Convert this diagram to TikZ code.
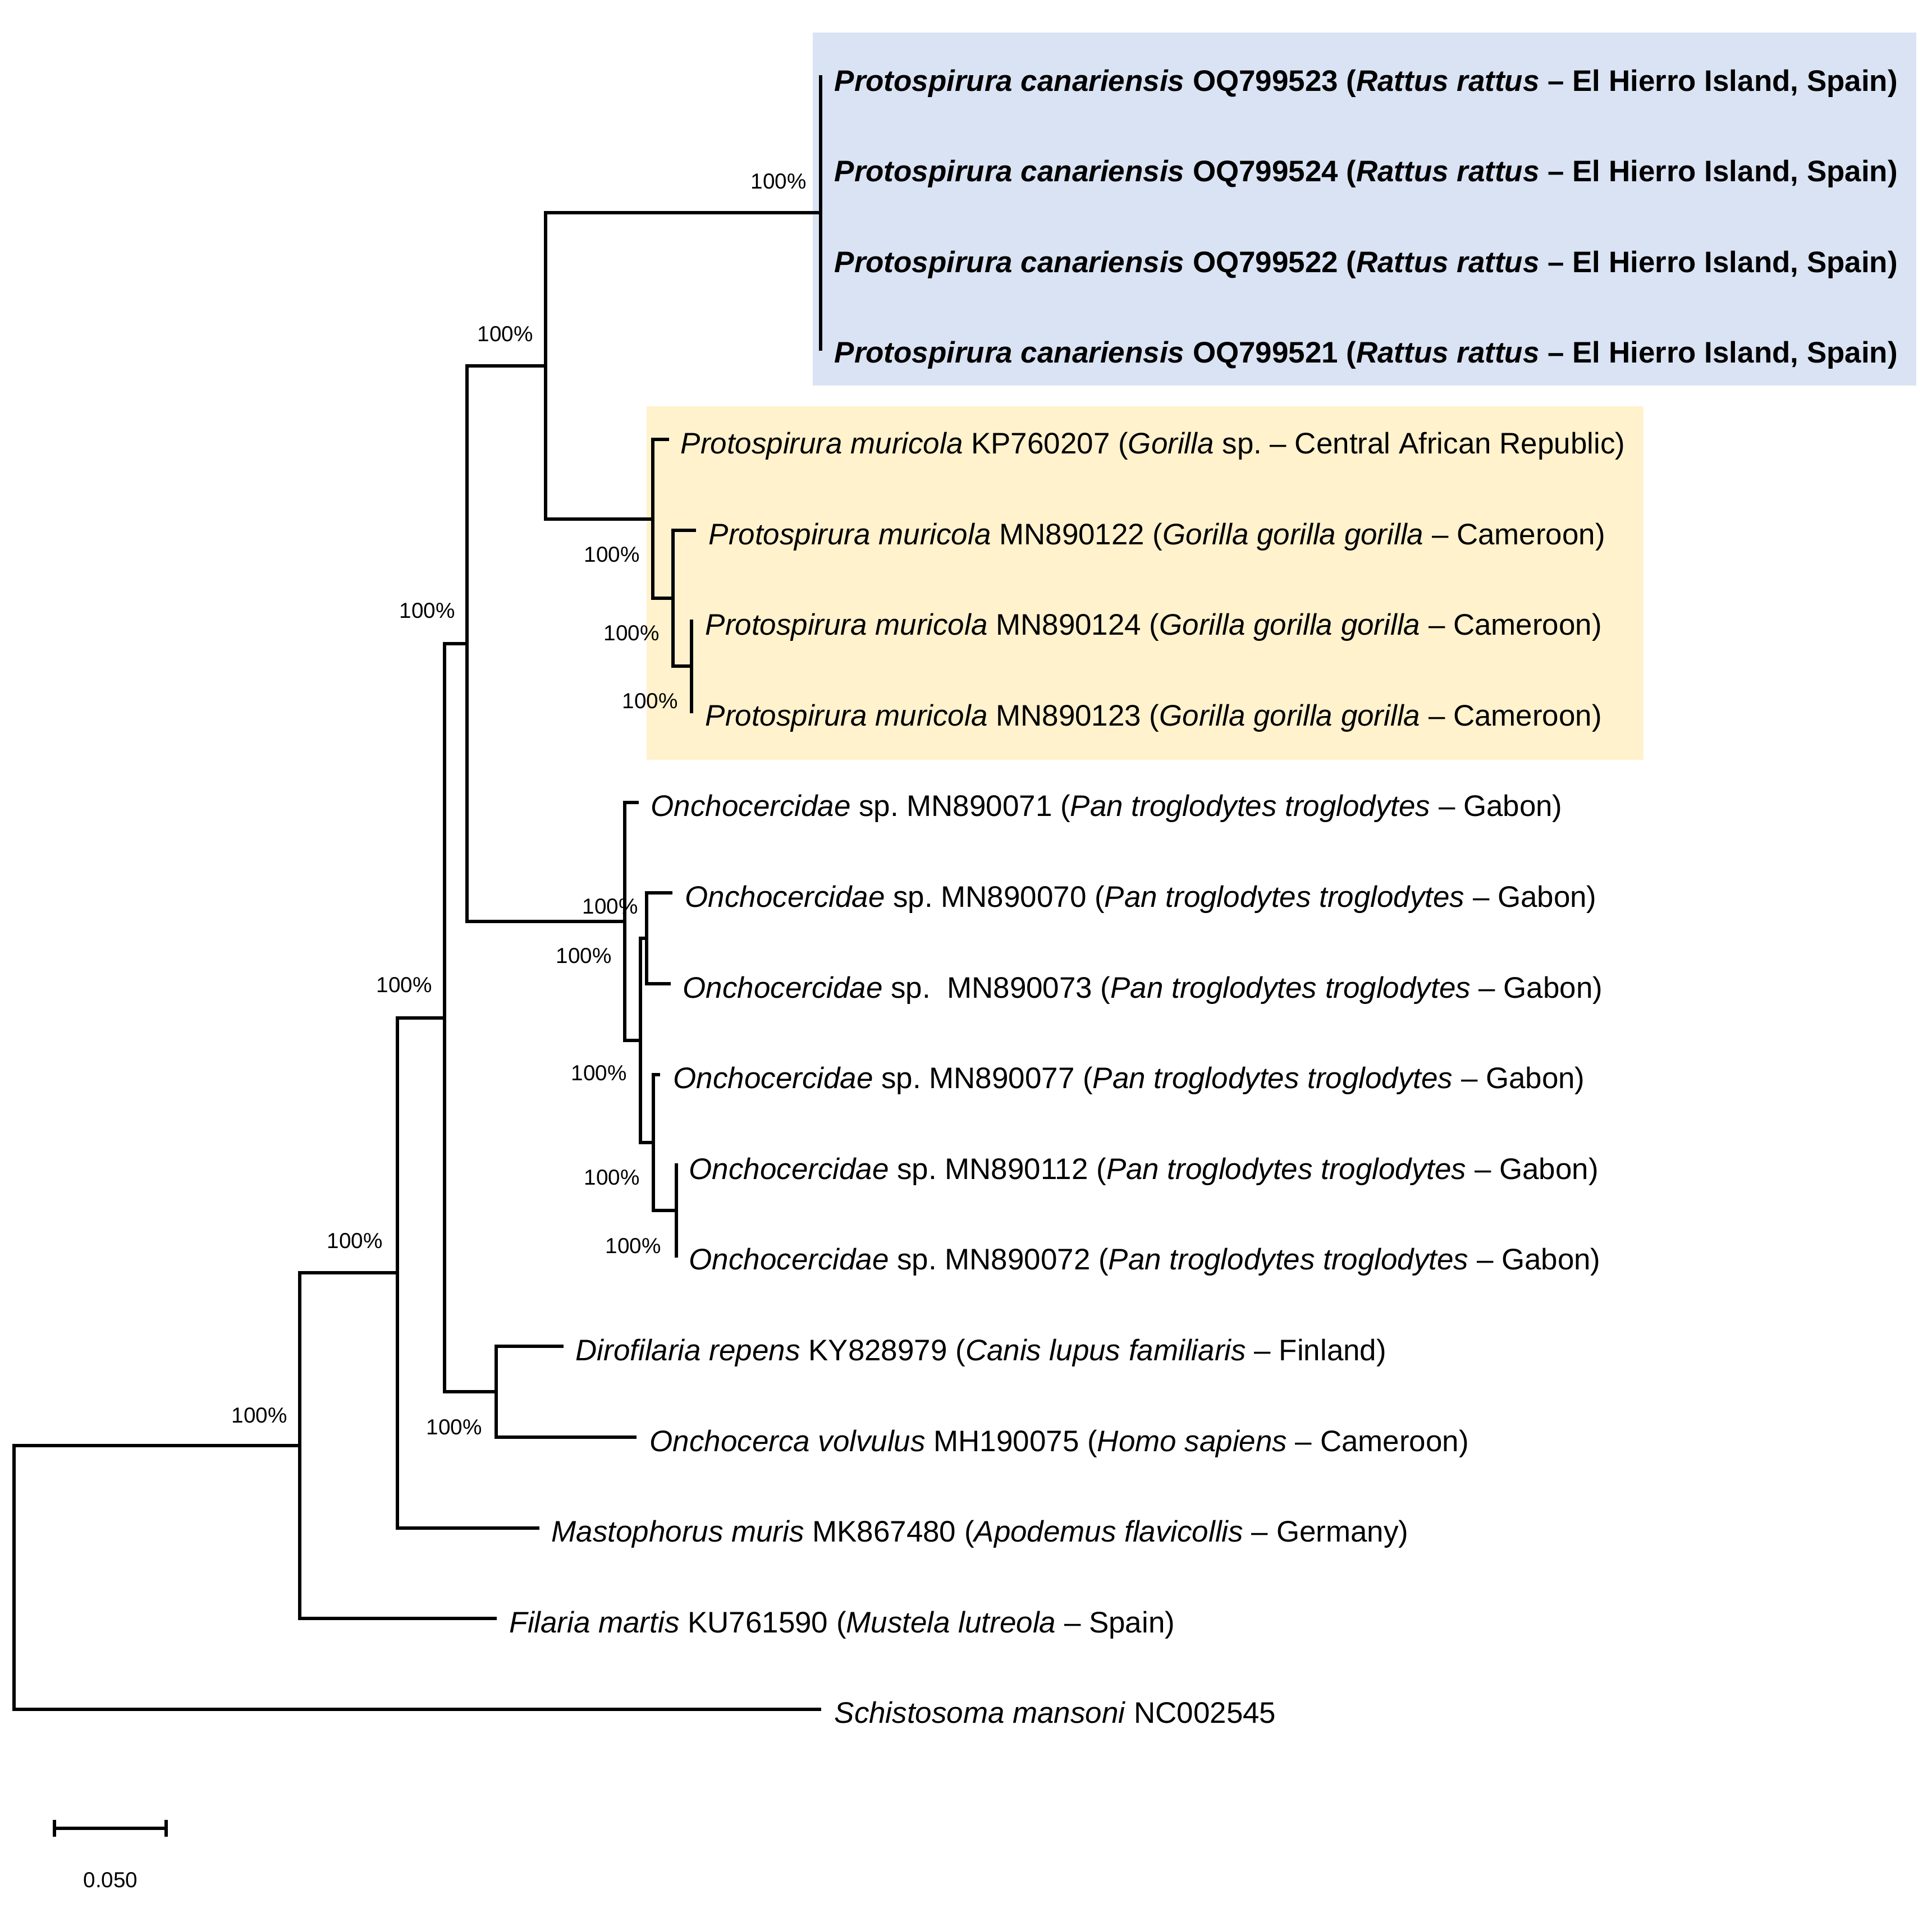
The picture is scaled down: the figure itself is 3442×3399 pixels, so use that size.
\documentclass[tikz,border=0pt]{standalone}
\usepackage{fontspec}
\setmainfont{Liberation Sans}
\usetikzlibrary{calc}
\definecolor{boxblue}{HTML}{DAE3F3}
\definecolor{boxgold}{HTML}{FFF2CC}
\frenchspacing
\begin{document}
\begin{tikzpicture}[x=0.01cm,y=-0.01cm,
  branch/.style={line width=0.06cm, line cap=rect},
  taxon/.style={anchor=base west, inner sep=0pt, font=\fontsize{15.05pt}{18pt}\selectfont},
  boot/.style={inner sep=0pt, font=\fontsize{11pt}{13pt}\selectfont}]
\useasboundingbox (0,0) rectangle (3442,3399);
\fill[white] (0,0) rectangle (3442,3399);
% clade highlight boxes
\fill[boxblue] (1448,58) rectangle (3414,687);
\fill[boxgold] (1152,724) rectangle (2928,1354);

% internal nodes
\coordinate (nCan) at (1462,379.4);
\coordinate (nC)   at (1232,1187.4);
\coordinate (nB)   at (1199,1066.2);
\coordinate (nMur) at (1163,924.8);
\coordinate (nA)   at (972,652.1);
\coordinate (nI)   at (1205,2157);
\coordinate (nH)   at (1164,2035.8);
\coordinate (nF)   at (1152,1672.2);
\coordinate (nG)   at (1141,1854);
\coordinate (nOn)  at (1113,1641.9);
\coordinate (nD)   at (832,1147);
\coordinate (nM)   at (884,2480.2);
\coordinate (nE)   at (792,1813.6);
\coordinate (nK)   at (708,2268.1);
\coordinate (nJ)   at (534,2576.2);
\coordinate (root) at (25,2811);

% tips
\coordinate (t1)  at (1462,137);
\coordinate (t2)  at (1462,298.6);
\coordinate (t3)  at (1462,460.2);
\coordinate (t4)  at (1462,621.8);
\coordinate (t5)  at (1189,783.4);
\coordinate (t6)  at (1237,945);
\coordinate (t7)  at (1232,1106.6);
\coordinate (t8)  at (1232,1268.2);
\coordinate (t9)  at (1135,1429.8);
\coordinate (t10) at (1195,1591.4);
\coordinate (t11) at (1192,1753);
\coordinate (t12) at (1173,1914.6);
\coordinate (t13) at (1205,2076.2);
\coordinate (t14) at (1205,2237.8);
\coordinate (t15) at (1001,2399.4);
\coordinate (t16) at (1131,2561);
\coordinate (t17) at (958,2722.6);
\coordinate (t18) at (882,2884.2);
\coordinate (t19) at (1460,3045.8);

% branches
\draw[branch] (t1) -- (t4);
\draw[branch] (nA) |- (nCan);
\draw[branch] (nA) |- (nMur);
\draw[branch] (nMur) |- (t5);
\draw[branch] (nMur) |- (nB);
\draw[branch] (nB) |- (t6);
\draw[branch] (nB) |- (nC);
\draw[branch] (t7) -- (t8);
\draw[branch] (nD) |- (nA);
\draw[branch] (nD) |- (nOn);
\draw[branch] (nOn) |- (t9);
\draw[branch] (nOn) |- (nG);
\draw[branch] (nG) |- (nF);
\draw[branch] (nG) |- (nH);
\draw[branch] (nF) |- (t10);
\draw[branch] (nF) |- (t11);
\draw[branch] (nH) |- (t12);
\draw[branch] (nH) |- (nI);
\draw[branch] (t13) -- (t14);
\draw[branch] (nE) |- (nD);
\draw[branch] (nE) |- (nM);
\draw[branch] (nM) |- (t15);
\draw[branch] (nM) |- (t16);
\draw[branch] (nK) |- (nE);
\draw[branch] (nK) |- (t17);
\draw[branch] (nJ) |- (nK);
\draw[branch] (nJ) |- (t18);
\draw[branch] (root) |- (nJ);
\draw[branch] (root) |- (t19);

% taxon labels
\node[taxon] (L1)  at (1486,162)    {\textbf{\textit{Protospirura canariensis} OQ799523 (\textit{Rattus rattus} – El Hierro Island, Spain)}};
\node[taxon] (L2)  at (1486,323.6)  {\textbf{\textit{Protospirura canariensis} OQ799524 (\textit{Rattus rattus} – El Hierro Island, Spain)}};
\node[taxon] (L3)  at (1486,485.2)  {\textbf{\textit{Protospirura canariensis} OQ799522 (\textit{Rattus rattus} – El Hierro Island, Spain)}};
\node[taxon] (L4)  at (1486,646.8)  {\textbf{\textit{Protospirura canariensis} OQ799521 (\textit{Rattus rattus} – El Hierro Island, Spain)}};
\node[taxon] (L5)  at (1212,808.4)  {\textit{Protospirura muricola} KP760207 (\textit{Gorilla} sp. – Central African Republic)};
\node[taxon] (L6)  at (1262,970)    {\textit{Protospirura muricola} MN890122 (\textit{Gorilla gorilla gorilla} – Cameroon)};
\node[taxon] (L7)  at (1256,1131.6) {\textit{Protospirura muricola} MN890124 (\textit{Gorilla gorilla gorilla} – Cameroon)};
\node[taxon] (L8)  at (1256,1293.2) {\textit{Protospirura muricola} MN890123 (\textit{Gorilla gorilla gorilla} – Cameroon)};
\node[taxon] (L9)  at (1159,1454.8) {\textit{Onchocercidae} sp. MN890071 (\textit{Pan troglodytes troglodytes} – Gabon)};
\node[taxon] (L10) at (1220,1616.4) {\textit{Onchocercidae} sp. MN890070 (\textit{Pan troglodytes troglodytes} – Gabon)};
\node[taxon] (L11) at (1216,1778)   {\textit{Onchocercidae} sp.\ \ MN890073 (\textit{Pan troglodytes troglodytes} – Gabon)};
\node[taxon] (L12) at (1199,1939.6) {\textit{Onchocercidae} sp. MN890077 (\textit{Pan troglodytes troglodytes} – Gabon)};
\node[taxon] (L13) at (1227,2101.2) {\textit{Onchocercidae} sp. MN890112 (\textit{Pan troglodytes troglodytes} – Gabon)};
\node[taxon] (L14) at (1227,2262.8) {\textit{Onchocercidae} sp. MN890072 (\textit{Pan troglodytes troglodytes} – Gabon)};
\node[taxon] (L15) at (1025,2424.4) {\textit{Dirofilaria repens} KY828979 (\textit{Canis lupus familiaris} – Finland)};
\node[taxon] (L16) at (1157,2586)   {\textit{Onchocerca volvulus} MH190075 (\textit{Homo sapiens} – Cameroon)};
\node[taxon] (L17) at (982,2747.6)  {\textit{Mastophorus muris} MK867480 (\textit{Apodemus flavicollis} – Germany)};
\node[taxon] (L18) at (907,2909.2)  {\textit{Filaria martis} KU761590 (\textit{Mustela lutreola} – Spain)};
\node[taxon] (L19) at (1486,3070.8) {\textit{Schistosoma mansoni} NC002545};

% bootstrap values
\node[boot] (b1)  at (1387,323)  {100\%};
\node[boot] (b2)  at (900,595)   {100\%};
\node[boot] (b3)  at (1090,988)  {100\%};
\node[boot] (b4)  at (1125,1128) {100\%};
\node[boot] (b5)  at (1158,1249) {100\%};
\node[boot] (b6)  at (761,1088)  {100\%};
\node[boot] (b7)  at (1087,1615) {100\%};
\node[boot] (b8)  at (1040,1703) {100\%};
\node[boot] (b9)  at (1067,1912) {100\%};
\node[boot] (b10) at (1090,2098) {100\%};
\node[boot] (b11) at (1128,2220) {100\%};
\node[boot] (b12) at (720,1755)  {100\%};
\node[boot] (b13) at (632,2211)  {100\%};
\node[boot] (b14) at (809,2543)  {100\%};
\node[boot] (b15) at (462,2522)  {100\%};

% scale bar
\coordinate (sb1) at (97,3258);
\coordinate (sb2) at (296,3258);
\draw[line width=0.06cm] (sb1) -- (sb2);
\draw[line width=0.06cm] ($(sb1)+(0,-15)$) -- ($(sb1)+(0,15)$);
\draw[line width=0.06cm] ($(sb2)+(0,-15)$) -- ($(sb2)+(0,15)$);
\node[boot] (sbl) at (197,3350) {0.050};
\end{tikzpicture}
\end{document}
